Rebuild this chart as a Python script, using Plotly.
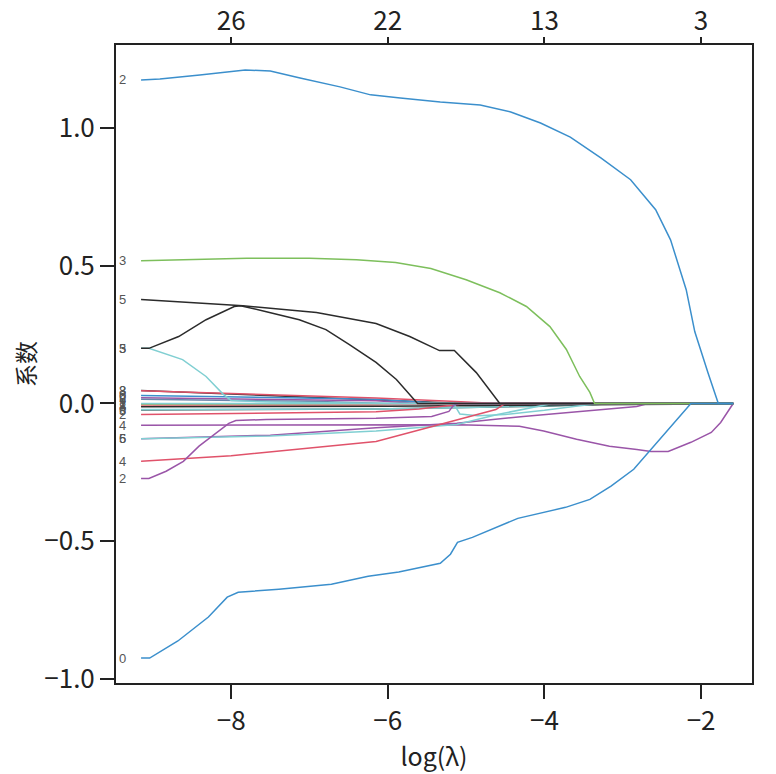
import plotly.graph_objects as go

# coefficient paths (log lambda, coefficient)
lam_blue_top = [-9.15, -8.91, -8.40, -7.82, -7.50, -7.12, -6.61, -6.22, -5.84, -5.33, -4.82, -4.43,
                -4.05, -3.67, -3.28, -2.90, -2.58, -2.39, -2.19, -2.08, -1.91, -1.78, -1.59]
coef_blue_top = [1.174, 1.178, 1.192, 1.210, 1.207, 1.181, 1.149, 1.120, 1.109, 1.094, 1.083, 1.058,
                 1.018, 0.967, 0.891, 0.812, 0.703, 0.594, 0.413, 0.26, 0.11, 0.0, 0.0]

lam_green = [-9.15, -8.4, -7.8, -7.0, -6.4, -5.9, -5.45, -5.0, -4.57, -4.23, -3.93, -3.72, -3.55, -3.42, -3.36, -1.59]
coef_green = [0.518, 0.522, 0.527, 0.527, 0.522, 0.512, 0.49, 0.449, 0.402, 0.352, 0.279, 0.196, 0.098, 0.04, 0.0, 0.0]

lam_black_a = [-9.15, -7.85, -6.91, -6.15, -5.72, -5.34, -5.15, -4.87, -4.57, -1.59]
coef_black_a = [0.377, 0.355, 0.33, 0.29, 0.243, 0.192, 0.192, 0.112, 0.0, 0.0]

lam_black_b = [-9.15, -9.05, -8.67, -8.32, -7.96, -7.88, -7.55, -7.13, -6.79, -6.49, -6.15, -5.89, -5.62, -1.59]
coef_black_b = [0.2, 0.2, 0.243, 0.304, 0.352, 0.355, 0.333, 0.304, 0.268, 0.214, 0.149, 0.087, 0.0, 0.0]

lam_cyan_a = [-9.15, -9.05, -8.62, -8.32, -8.1, -8.0, -7.5, -6.0, -1.59]
coef_cyan_a = [0.2, 0.2, 0.159, 0.098, 0.033, 0.011, 0.005, 0.0, 0.0]

lam_blue_bot = [-9.15, -9.04, -8.68, -8.29, -8.05, -7.91, -7.39, -6.72, -6.25, -5.86, -5.33, -5.20,
                -5.11, -4.92, -4.34, -4.01, -3.73, -3.42, -3.15, -2.86, -2.64, -2.39, -2.13, -1.59]
coef_blue_bot = [-0.924, -0.924, -0.862, -0.775, -0.703, -0.685, -0.674, -0.656, -0.627, -0.612, -0.580, -0.547,
                 -0.504, -0.486, -0.417, -0.395, -0.377, -0.348, -0.30, -0.239, -0.167, -0.083, 0.0, 0.0]

lam_purple_a = [-9.15, -9.05, -8.83, -8.61, -8.41, -8.19, -8.03, -7.94, -7.55, -6.15, -5.44, -5.22, -5.16, -5.10, -1.59]
coef_purple_a = [-0.272, -0.272, -0.246, -0.21, -0.155, -0.105, -0.072, -0.062, -0.058, -0.054, -0.047, -0.029, -0.007, 0.0, 0.0]

lam_purple_b = [-9.15, -6.15, -5.1, -4.32, -4.01, -3.59, -3.17, -2.82, -2.64, -2.42, -2.13, -1.87, -1.75, -1.59]
coef_purple_b = [-0.079, -0.079, -0.077, -0.083, -0.1, -0.13, -0.155, -0.167, -0.174, -0.174, -0.141, -0.105, -0.069, 0.0]

lam_purple_c = [-9.15, -7.5, -6.15, -5.12, -4.27, -3.59, -2.82, -2.68, -1.59]
coef_purple_c = [-0.128, -0.115, -0.088, -0.072, -0.047, -0.029, -0.011, 0.0, 0.0]

lam_cyan_b = [-9.15, -7.5, -6.15, -5.12, -4.6, -4.1, -3.9, -1.59]
coef_cyan_b = [-0.128, -0.118, -0.1, -0.076, -0.04, -0.012, 0.0, 0.0]

lam_cyan_c = [-9.15, -5.16, -5.08, -4.85, -4.5, -4.0, -3.6, -3.3, -1.59]
coef_cyan_c = [0.0, 0.0, -0.038, -0.045, -0.04, -0.025, -0.01, 0.0, 0.0]

lam_red_a = [-9.15, -8.0, -6.15, -5.72, -5.28, -4.87, -4.62, -4.5, -1.59]
coef_red_a = [-0.21, -0.19, -0.138, -0.105, -0.07, -0.04, -0.022, 0.0, 0.0]

lam_red_b = [-9.15, -6.15, -5.6, -5.0, -1.59]
coef_red_b = [-0.04, -0.03, -0.02, 0.0, 0.0]

lam_dark_a = [-9.15, -6.15, -5.4, -5.0, -1.59]
coef_dark_a = [0.047, 0.014, 0.005, 0.0, 0.0]

lam_blue_c = [-9.15, -6.15, -5.3, -1.59]
coef_blue_c = [0.029, 0.015, 0.0, 0.0]

lam_purple_d = [-9.15, -6.15, -5.6, -1.59]
coef_purple_d = [0.021, 0.01, 0.0, 0.0]

lam_steel = [-9.15, -7.0, -6.0, -1.59]
coef_steel = [0.015, 0.008, 0.0, 0.0]

lam_olive = [-9.15, -6.15, -5.5, -1.59]
coef_olive = [-0.004, -0.004, 0.0, 0.0]

lam_salmon = [-9.15, -6.15, -5.0, -1.59]
coef_salmon = [-0.008, -0.006, 0.0, 0.0]

lam_teal = [-9.15, -6.15, -4.0, -3.0, -1.59]
coef_teal = [-0.024, -0.02, -0.01, 0.0, 0.0]

lam_cyan_d = [-9.15, -6.15, -5.0, -3.5, -2.9, -1.59]
coef_cyan_d = [-0.022, -0.02, -0.015, -0.005, 0.0, 0.0]

lam_dark_b = [-9.15, -6.0, -4.0, -2.5, -1.75, -1.59]
coef_dark_b = [-0.012, -0.01, -0.006, -0.004, -0.002, 0.0]

lam_red_c = [-9.15, -6.15, -5.2, -4.6, -1.59]
coef_red_c = [0.046, 0.02, 0.008, 0.0, 0.0]

# top axis: number of non-zero coefficients
top_ticks = [-8, -6, -4, -2]
top_counts = ["26", "22", "13", "3"]

BLUE = "#3b8fcc"
GREEN = "#7dbf5c"
BLACK = "#2b2b2b"
CYAN = "#80cfd2"
RED = "#e0526a"
PURPLE = "#9a55a8"

# (lambda, coef, colour, variable label shown at the left end)
paths = [
    (lam_dark_a, coef_dark_a, "#3a3a3a", "8"),
    (lam_blue_c, coef_blue_c, BLUE, "0"),
    (lam_purple_d, coef_purple_d, PURPLE, "9"),
    (lam_steel, coef_steel, "#6a86ab", "6"),
    (lam_olive, coef_olive, "#a3ad6c", "1"),
    (lam_salmon, coef_salmon, "#e8838c", "7"),
    (lam_teal, coef_teal, "#3f6262", "3"),
    (lam_cyan_d, coef_cyan_d, CYAN, "0"),
    (lam_dark_b, coef_dark_b, BLACK, "8"),
    (lam_red_c, coef_red_c, RED, "3"),
    (lam_red_b, coef_red_b, RED, "2"),
    (lam_purple_b, coef_purple_b, PURPLE, "4"),
    (lam_purple_c, coef_purple_c, PURPLE, "5"),
    (lam_cyan_b, coef_cyan_b, CYAN, "6"),
    (lam_cyan_c, coef_cyan_c, CYAN, "1"),
    (lam_red_a, coef_red_a, RED, "4"),
    (lam_purple_a, coef_purple_a, PURPLE, "2"),
    (lam_cyan_a, coef_cyan_a, CYAN, "3"),
    (lam_black_b, coef_black_b, BLACK, "5"),
    (lam_black_a, coef_black_a, BLACK, "5"),
    (lam_green, coef_green, GREEN, "3"),
    (lam_blue_bot, coef_blue_bot, BLUE, "0"),
    (lam_blue_top, coef_blue_top, BLUE, "2"),
]

fig = go.Figure()
for lx, cy, col, lab in paths:
    fig.add_trace(go.Scatter(x=lx, y=cy, mode="lines", line=dict(color=col, width=1.5),
                             showlegend=False, hoverinfo="skip"))
    fig.add_annotation(x=-9.46, y=cy[0], text=lab, showarrow=False, xanchor="left",
                       font=dict(family="Liberation Sans", size=13, color="#555555"))

# dummy trace so the top axis gets drawn
fig.add_trace(go.Scatter(x=top_ticks, y=[None] * len(top_ticks), xaxis="x2",
                         showlegend=False, hoverinfo="skip"))

FONT = "Noto Sans CJK SC"
axis_common = dict(showline=True, linewidth=2, linecolor="#222222", ticks="outside",
                   ticklen=14, tickwidth=2, tickcolor="#222222", showgrid=False,
                   zeroline=False, automargin=False,
                   tickfont=dict(family=FONT, size=26, color="#222222"))

fig.update_layout(
    width=776, height=774,
    margin=dict(l=108, r=32, t=37, b=99),
    plot_bgcolor="white", paper_bgcolor="white",
    font=dict(family=FONT, color="#222222"),
    xaxis=dict(range=[-9.47, -1.35], tickvals=[-8, -6, -4, -2],
               ticktext=["\u22128", "\u22126", "\u22124", "\u22122"],
               title=dict(text="log(λ)", font=dict(family=FONT, size=25), standoff=0),
               **axis_common),
    xaxis2=dict(overlaying="x", side="top", matches="x", anchor="y",
                tickvals=top_ticks, ticktext=top_counts, **axis_common),
    yaxis=dict(range=[-1.0145, 1.301], tickvals=[-1, -0.5, 0, 0.5, 1],
               ticktext=["\u22121.0", "\u22120.5", "0.0", "0.5", "1.0"], mirror=True,
               title=dict(text="系数", font=dict(family=FONT, size=23), standoff=8),
               **axis_common),
)
fig.update_layout(xaxis2_ticklen=6, xaxis2_ticklabelstandoff=-3)

fig.write_html("out.html")
